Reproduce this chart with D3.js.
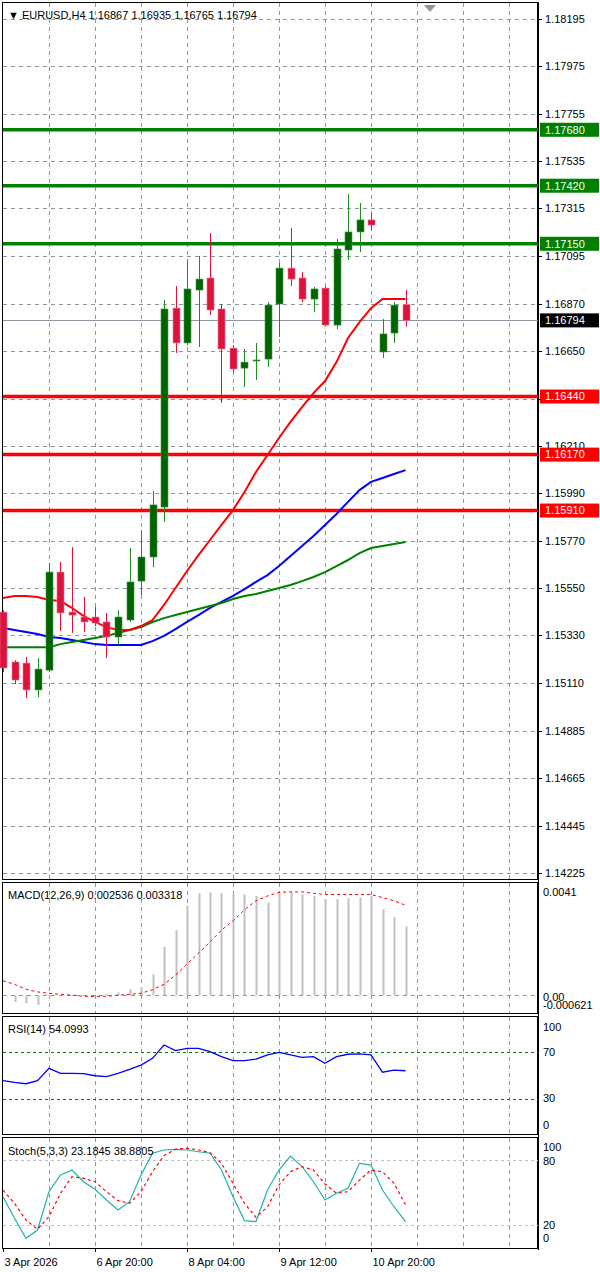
<!DOCTYPE html>
<html><head><meta charset="utf-8">
<script src="https://cdn.jsdelivr.net/npm/d3@7"></script>
<style>
body{margin:0;background:#fff;}
text{font-family:"Liberation Sans",Arial,sans-serif;font-size:11px;fill:#000;}
</style></head>
<body><div id="chart"></div>
<script>
// EURUSD H4 candles: open, high, low, close
const opens  = [1.15438,1.15206,1.15201,1.15076,1.15168,1.15624,1.15438,1.15415,1.15415,1.15392,1.15322,1.15401,1.15582,1.15694,1.15926,1.16851,1.16689,1.16935,1.16991,1.16847,1.16665,1.16572,1.16605,1.16614,1.16870,1.17037,1.16991,1.16893,1.16944,1.16772,1.17121,1.17205,1.17261,1.16647,1.16735,1.16867];
const highs  = [1.15447,1.15215,1.15229,1.15224,1.15666,1.15671,1.15740,1.15508,1.15461,1.15434,1.15447,1.15736,1.15819,1.16001,1.16889,1.16954,1.17075,1.17093,1.17200,1.16870,1.16679,1.16661,1.16689,1.16879,1.17061,1.17223,1.17019,1.16949,1.16954,1.17172,1.17381,1.17340,1.17293,1.16800,1.16879,1.16935];
const lows   = [1.15159,1.15103,1.15038,1.15043,1.15159,1.15350,1.15341,1.15345,1.15373,1.15224,1.15285,1.15392,1.15517,1.15647,1.15857,1.16642,1.16679,1.16670,1.16819,1.16410,1.16554,1.16484,1.16517,1.16577,1.16717,1.16954,1.16879,1.16833,1.16768,1.16754,1.17075,1.17112,1.17214,1.16619,1.16689,1.16765];
const closes = [1.15178,1.15122,1.15076,1.15173,1.15624,1.15434,1.15424,1.15392,1.15387,1.15322,1.15415,1.15578,1.15694,1.15936,1.16847,1.16689,1.16940,1.16986,1.16842,1.16661,1.16568,1.16600,1.16610,1.16865,1.17037,1.16986,1.16893,1.16940,1.16772,1.17126,1.17205,1.17261,1.17237,1.16731,1.16865,1.16794];

const maRed   = [1.15503,1.15513,1.15513,1.15508,1.15494,1.15489,1.15457,1.15420,1.15392,1.15368,1.15355,1.15355,1.15373,1.15401,1.15471,1.15550,1.15629,1.15703,1.15773,1.15843,1.15912,1.15996,1.16089,1.16168,1.16247,1.16322,1.16391,1.16456,1.16512,1.16600,1.16712,1.16786,1.16851,1.16893,1.16893,1.16893];
const maBlue  = [1.15364,1.15355,1.15345,1.15336,1.15322,1.15317,1.15308,1.15299,1.15289,1.15285,1.15285,1.15285,1.15285,1.15303,1.15327,1.15359,1.15392,1.15424,1.15457,1.15485,1.15513,1.15545,1.15578,1.15610,1.15652,1.15699,1.15745,1.15792,1.15843,1.15894,1.15950,1.16005,1.16043,1.16061,1.16080,1.16098];
const maGreen = [1.15275,1.15275,1.15275,1.15275,1.15275,1.15289,1.15299,1.15308,1.15317,1.15327,1.15341,1.15355,1.15368,1.15392,1.15410,1.15424,1.15438,1.15452,1.15466,1.15480,1.15499,1.15513,1.15522,1.15536,1.15550,1.15564,1.15582,1.15601,1.15624,1.15652,1.15680,1.15712,1.15736,1.15745,1.15754,1.15764];

const supportLevels = [1.16440,1.16170,1.15910];
const resistLevels = [1.17680,1.17420,1.17150];
const lastPrice = 1.16794;
const priceTicks = [1.18195,1.17975,1.17755,1.17535,1.17315,1.17095,1.16870,1.16650,1.16430,1.16210,1.15990,1.15770,1.15550,1.15330,1.15110,1.14885,1.14665,1.14445,1.14225];

const macdHist = [0,-0.00025,-0.0003,-0.00036,-0.0001,-0.00005,-0.00003,-0.00002,0.00001,0.00003,0.0001,0.00022,0.00028,0.00077,0.00178,0.0024,0.0033,0.00376,0.00379,0.00376,0.00372,0.00372,0.00366,0.00342,0.00381,0.00381,0.00372,0.00366,0.00354,0.00354,0.00358,0.0036,0.00366,0.00317,0.00287,0.002536];
const macdSignal = [0.00053,0.0004,0.00022,0.00012,0.00007,0.00003,0,-0.00004,-0.00005,-0.00004,0,0.00003,0.00007,0.0002,0.0004,0.00074,0.00115,0.00155,0.00196,0.0024,0.00274,0.00315,0.00348,0.00366,0.00379,0.00381,0.00381,0.00376,0.00371,0.00371,0.00371,0.00371,0.00371,0.0036,0.00348,0.003318];
const rsi = [45.5,44.1,42.9,45.5,56.2,51.9,51.9,51.6,49.8,49,51.9,55.3,59,64.8,76.3,71.4,73.4,73.4,70.5,66.2,62.8,62.8,64.2,67.7,70,67.7,65.7,66.2,60.5,66.2,68.3,68.6,67.7,52.8,54.7,54.1];
const stochMain = [46.2,26.2,7.8,15.4,50.8,66.2,70.8,60,53,43.1,33.9,41.6,66.2,86.3,89.3,89.9,89.3,87.7,86.3,70.8,46.2,24.1,23.2,52.3,70.8,83.7,73.9,60,43.1,49.3,53.9,77,75.4,52.3,36.9,23.2];
const stochSignal = [52.3,40,24.6,16.1,27.7,49.3,64.6,63.1,60,50.8,42.5,40,50.8,69.2,84.2,89.9,90.9,89.3,86.9,77,58.5,40,27.1,36.9,57,69.2,73.9,70.8,57.9,49.3,50.8,61.5,70.8,69.2,58.5,38.9];

const timeLabels = [[0,"3 Apr 2026"],[8,"6 Apr 20:00"],[16,"8 Apr 04:00"],[24,"9 Apr 12:00"],[32,"10 Apr 20:00"]];

const W = 600, H = 1272, axisX = 538, left = 2;
const svg = d3.select("#chart").append("svg").attr("width", W).attr("height", H);
const x = d3.scaleLinear().domain([0, 35]).range([3, 405.5]);
const gridXs = d3.range(4, 48, 4).map(i => x(i));
const dash = "4,4";

function panel(top, bottom) {
  svg.append("rect").attr("x", left + 0.5).attr("y", top + 0.5)
    .attr("width", axisX - left - 1).attr("height", bottom - top)
    .attr("fill", "none").attr("stroke", "#000");
  svg.append("g").selectAll("line").data(gridXs).join("line")
    .attr("x1", d => Math.round(d) + 0.5).attr("x2", d => Math.round(d) + 0.5)
    .attr("y1", top + 1).attr("y2", bottom)
    .attr("stroke", "#8c96a0").attr("stroke-dasharray", dash);
}

// ---- main panel
const y = d3.scaleLinear().domain([1.14225, 1.18195]).range([873, 19]);
panel(2, 879);
svg.append("g").selectAll("line").data(priceTicks).join("line")
  .attr("x1", left + 1).attr("x2", axisX)
  .attr("y1", d => Math.round(y(d)) + 0.5).attr("y2", d => Math.round(y(d)) + 0.5)
  .attr("stroke", "#8c96a0").attr("stroke-dasharray", dash);
svg.append("line").attr("x1", axisX + 0.5).attr("x2", axisX + 0.5).attr("y1", 2).attr("y2", 1250).attr("stroke", "#000");
const pt = svg.append("g").selectAll("g").data(priceTicks).join("g")
  .attr("transform", d => `translate(${axisX},${Math.round(y(d)) + 0.5})`);
pt.append("line").attr("x2", 4).attr("stroke", "#000");
pt.append("text").attr("x", 7).attr("dy", "0.35em").text(d => d.toFixed(5));

// current price line
svg.append("line").attr("x1", left + 1).attr("x2", axisX)
  .attr("y1", Math.round(y(lastPrice)) + 0.5).attr("y2", Math.round(y(lastPrice)) + 0.5)
  .attr("stroke", "#8c96a0");

// levels
const levels = resistLevels.map(v => ({v, c: "#008000"})).concat(supportLevels.map(v => ({v, c: "#ff0000"})));
svg.append("g").selectAll("line").data(levels).join("line")
  .attr("x1", left + 1).attr("x2", axisX).attr("y1", d => y(d.v)).attr("y2", d => y(d.v))
  .attr("stroke", d => d.c).attr("stroke-width", 3.5);

// moving averages
[[maBlue, "#0000ff"], [maGreen, "#008000"], [maRed, "#ff0000"]].forEach(([arr, c]) => {
  svg.append("path").datum(arr)
    .attr("d", d3.line().x((d, i) => x(i)).y(d => y(d)))
    .attr("fill", "none").attr("stroke", c).attr("stroke-width", 2);
});

// candles
const bars = d3.range(opens.length);
const cg = svg.append("g").selectAll("g").data(bars).join("g");
const col = i => closes[i] >= opens[i] ? "#006400" : "#dc143c";
const wcol = i => closes[i] >= opens[i] ? "#1e8c1e" : "#dc143c";
cg.append("line")
  .attr("x1", i => Math.round(x(i)) + 0.5).attr("x2", i => Math.round(x(i)) + 0.5)
  .attr("y1", i => y(highs[i])).attr("y2", i => y(lows[i]))
  .attr("stroke", wcol);
cg.append("rect")
  .attr("x", i => Math.round(x(i)) - 3).attr("width", 7)
  .attr("y", i => y(Math.max(opens[i], closes[i])))
  .attr("height", i => Math.max(1, Math.abs(y(opens[i]) - y(closes[i]))))
  .attr("fill", col).attr("stroke", i => closes[i] >= opens[i] ? "#4a9a4a" : "#f07090").attr("stroke-width", 0.6);

// level labels on axis
const lbl = levels.map(d => ({v: d.v, c: d.c})).concat([{v: lastPrice, c: "#000"}]);
const lg = svg.append("g").selectAll("g").data(lbl).join("g")
  .attr("transform", d => `translate(${axisX + 2},${y(d.v)})`);
lg.append("rect").attr("x", 0).attr("y", -7).attr("width", 59).attr("height", 14).attr("fill", d => d.c);
lg.append("text").attr("x", 5).attr("dy", "0.35em").style("fill", "#fff").text(d => d.v.toFixed(5));

// header
svg.append("path").attr("d", "M424,5 L436,5 L430,12 Z").attr("fill", "#8c96a0");
svg.append("text").attr("x", 8).attr("y", 19)
  .text(`\u25BC EURUSD,H4  ${opens[35].toFixed(5)} ${highs[35].toFixed(5)} ${lows[35].toFixed(5)} ${closes[35].toFixed(5)}`);

// ---- MACD
const yM = d3.scaleLinear().domain([-0.000621, 0.0041]).range([1012, 884]);
panel(882, 1013);
svg.append("line").attr("x1", left + 1).attr("x2", axisX).attr("y1", Math.round(yM(0)) + 0.5).attr("y2", Math.round(yM(0)) + 0.5)
  .attr("stroke", "#8c96a0").attr("stroke-dasharray", dash);
svg.append("g").selectAll("line").data(bars).join("line")
  .attr("x1", i => Math.round(x(i)) + 0.5).attr("x2", i => Math.round(x(i)) + 0.5)
  .attr("y1", yM(0)).attr("y2", i => yM(macdHist[i]))
  .attr("stroke", "#c0c0c0").attr("stroke-width", 2);
svg.append("path").datum(macdSignal)
  .attr("d", d3.line().x((d, i) => x(i)).y(d => yM(d)))
  .attr("fill", "none").attr("stroke", "#ff0000").attr("stroke-dasharray", "3,3");
svg.append("text").attr("x", 8).attr("y", 899).text("MACD(12,26,9) 0.002536 0.003318");
svg.append("text").attr("x", axisX + 5).attr("y", 896).text("0.0041");
svg.append("text").attr("x", axisX + 5).attr("y", 1001).text("0.00");
svg.append("text").attr("x", axisX + 5).attr("y", 1009).text("-0.000621");

// ---- RSI
const yR = d3.scaleLinear().domain([0, 100]).range([1133.5, 1017.5]);
panel(1016, 1134);
[70, 30].forEach(v => svg.append("line").attr("x1", left + 1).attr("x2", axisX)
  .attr("y1", Math.round(yR(v)) + 0.5).attr("y2", Math.round(yR(v)) + 0.5)
  .attr("stroke", "#008000").attr("stroke-dasharray", "3,3"));
svg.append("path").datum(rsi)
  .attr("d", d3.line().x((d, i) => x(i)).y(d => yR(d)))
  .attr("fill", "none").attr("stroke", "#0000ff").attr("stroke-width", 1.3);
svg.append("text").attr("x", 8).attr("y", 1033).text("RSI(14) 54.0993");
[[100, 1031], [70, 1056], [30, 1102], [0, 1129]].forEach(([t, yy]) =>
  svg.append("text").attr("x", axisX + 5).attr("y", yy).text(t));

// ---- Stochastic
const yS = d3.scaleLinear().domain([0, 100]).range([1246.7, 1138.4]);
panel(1137, 1248);
[80, 20].forEach(v => svg.append("line").attr("x1", left + 1).attr("x2", axisX)
  .attr("y1", Math.round(yS(v)) + 0.5).attr("y2", Math.round(yS(v)) + 0.5)
  .attr("stroke", "#c0c0c0").attr("stroke-dasharray", "3,3"));
svg.append("path").datum(stochMain)
  .attr("d", d3.line().x((d, i) => x(i)).y(d => yS(d)))
  .attr("fill", "none").attr("stroke", "#20b2aa").attr("stroke-width", 1.2);
svg.append("path").datum(stochSignal)
  .attr("d", d3.line().x((d, i) => x(i)).y(d => yS(d)))
  .attr("fill", "none").attr("stroke", "#ff0000").attr("stroke-dasharray", "3,3").attr("stroke-width", 1.2);
svg.append("text").attr("x", 8).attr("y", 1155).text("Stoch(5,3,3) 23.1845 38.8805");
[[100, 1151], [80, 1165], [20, 1229], [0, 1242]].forEach(([t, yy]) =>
  svg.append("text").attr("x", axisX + 5).attr("y", yy).text(t));

// ---- time axis
const tg = svg.append("g").selectAll("g").data(timeLabels).join("g")
  .attr("transform", d => `translate(${Math.round(x(d[0])) + 0.5},1248)`);
tg.append("line").attr("y2", 4).attr("stroke", "#000");
tg.append("text").attr("x", 1).attr("y", 18).text(d => d[1]);
</script>
</body></html>
